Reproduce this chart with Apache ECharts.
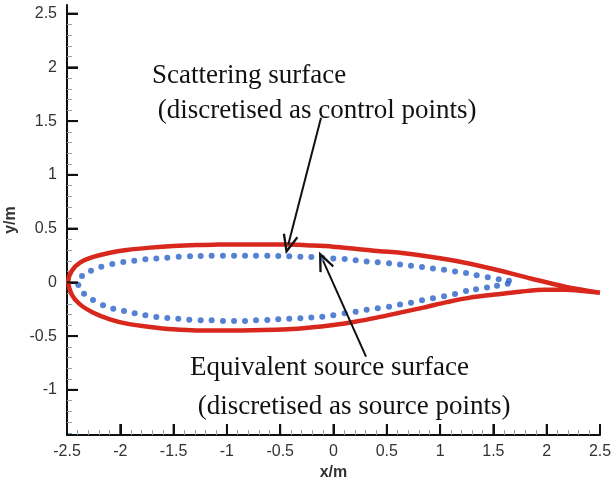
<!DOCTYPE html>
<html>
<head>
<meta charset="utf-8">
<script src="https://cdn.jsdelivr.net/npm/echarts@6/dist/echarts.min.js"></script>
<style>
  html, body { margin: 0; padding: 0; background: #fff; }
  #chart { width: 613px; height: 481px; }
</style>
</head>
<body>
<div id="chart"></div>
<script>
// scattering surface (red), trailing edge -> upper -> leading edge -> lower -> trailing edge
const scatterX = [2.500, 2.172, 1.859, 1.546, 1.234, 0.905, 0.624, 0.436, 0.202, -0.005, -0.220, -0.427, -0.643, -0.861, -1.083, -1.283, -1.503, -1.721, -1.940, -2.097, -2.253, -2.378, -2.456, -2.488,
  -2.456, -2.378, -2.253, -2.097, -1.940, -1.721, -1.503, -1.283, -0.861, -0.424, -0.220, -0.002, 0.202, 0.405, 0.624, 0.842, 1.065, 1.280, 1.546, 1.749, 1.984, 2.172, 2.360, 2.500];
const scatterY = [-0.096, -0.040, 0.034, 0.113, 0.183, 0.239, 0.276, 0.290, 0.313, 0.332, 0.343, 0.351, 0.353, 0.353, 0.351, 0.348, 0.339, 0.323, 0.301, 0.276, 0.236, 0.183, 0.106, 0.011,
  -0.112, -0.205, -0.282, -0.344, -0.384, -0.415, -0.437, -0.447, -0.447, -0.437, -0.421, -0.396, -0.366, -0.328, -0.282, -0.235, -0.184, -0.142, -0.110, -0.087, -0.068, -0.068, -0.082, -0.096];

// equivalent source points (blue)
const sourceUpperX = [-2.394, -2.359, -2.275, -2.178, -2.075, -1.972, -1.869, -1.765, -1.662, -1.559, -1.452, -1.346, -1.246, -1.143, -1.037, -0.933, -0.830, -0.727, -0.621, -0.518, -0.415,
  -0.311, -0.208, -0.105, -0.002, 0.105, 0.208, 0.311, 0.415, 0.521, 0.624, 0.727, 0.830, 0.933, 1.037, 1.140, 1.243, 1.343, 1.447, 1.550, 1.646];
const sourceUpperY = [-0.024, 0.060, 0.109, 0.146, 0.171, 0.190, 0.202, 0.214, 0.223, 0.230, 0.239, 0.242, 0.246, 0.248, 0.248, 0.248, 0.248, 0.248, 0.248, 0.246, 0.242,
  0.239, 0.236, 0.230, 0.223, 0.218, 0.205, 0.195, 0.186, 0.177, 0.165, 0.155, 0.143, 0.130, 0.118, 0.102, 0.087, 0.065, 0.047, 0.028, 0.016];
const sourceLowerX = [-2.340, -2.256, -2.162, -2.066, -1.965, -1.865, -1.765, -1.662, -1.559, -1.456, -1.353, -1.246, -1.143, -1.037, -0.933, -0.830, -0.727, -0.621, -0.518, -0.415,
  -0.311, -0.208, -0.105, -0.002, 0.105, 0.208, 0.311, 0.415, 0.521, 0.624, 0.727, 0.830, 0.933, 1.037, 1.140, 1.243, 1.337, 1.440, 1.534, 1.634];
const sourceLowerY = [-0.105, -0.164, -0.214, -0.245, -0.266, -0.288, -0.307, -0.322, -0.331, -0.338, -0.347, -0.353, -0.353, -0.359, -0.359, -0.359, -0.353, -0.350, -0.344, -0.338,
  -0.335, -0.328, -0.319, -0.305, -0.288, -0.273, -0.254, -0.242, -0.226, -0.207, -0.189, -0.167, -0.149, -0.130, -0.108, -0.080, -0.065, -0.049, -0.031, -0.012];

const xTicks = [-2.5, -2, -1.5, -1, -0.5, 0, 0.5, 1, 1.5, 2, 2.5];
const yTicks = [-1, -0.5, 0, 0.5, 1, 1.5, 2, 2.5];
const xRange = [-2.5, 2.5];
const yRange = [-1.42, 2.58];

// arrows: [from, to] in data units
const arrows = [
  [[-0.117, 1.532], [-0.424, 0.351]],
  [[0.305, -0.691], [-0.098, 0.202]]
];

// annotation text: [text, left px, middle px]
const notes = [
  ['Scattering surface', 152, 76],
  [' (discretised as control points)', 151, 111],
  ['Equivalent source surface', 190, 368],
  [' (discretised as source points)', 191, 407]
];

const zip = (xs, ys) => xs.map((x, i) => [x, ys[i]]);
const scatterData = zip(scatterX, scatterY);
const sourceData = zip(sourceUpperX, sourceUpperY).concat(zip(sourceLowerX, sourceLowerY));
// major tick marks: [0 = x axis / 1 = y axis, value]
const tickData = xTicks.map(v => [0, v]).concat(yTicks.map(v => [1, v]));

const arrowHead = 'path://M7,0 L14,16.5 L12.2,17.5 L7,5.2 L1.8,17.5 L0,16.5 Z';
const tickLen = 11;

const chart = echarts.init(document.getElementById('chart'));

const axisFont = {color: '#333', fontSize: 16, fontFamily: '"Liberation Sans", Arial, sans-serif'};

chart.setOption({
  animation: false,
  grid: {left: 67, right: 13, top: 5, bottom: 46, outerBoundsMode: 'none'},
  xAxis: {
    type: 'value',
    min: xRange[0],
    max: xRange[1],
    interval: 0.5,
    name: 'x/m',
    nameLocation: 'middle',
    nameGap: 29,
    nameTextStyle: {color: '#333', fontSize: 16, fontWeight: 'bold'},
    axisLine: {onZero: false, lineStyle: {color: '#111', width: 2}},
    axisTick: {show: true, inside: true, length: tickLen, lineStyle: {color: '#111', width: 2}},
    minorTick: {show: true, splitNumber: 5, length: 5, lineStyle: {color: '#87a3b8', width: 1}},
    axisLabel: Object.assign({margin: 9}, axisFont),
    splitLine: {show: false}
  },
  yAxis: {
    type: 'value',
    min: yRange[0],
    max: yRange[1],
    minInterval: 0.5,
    maxInterval: 0.5,
    name: 'y/m',
    nameLocation: 'middle',
    nameGap: 40,
    nameTextStyle: {color: '#333', fontSize: 16, fontWeight: 'bold'},
    axisLine: {onZero: false, lineStyle: {color: '#111', width: 2}},
    axisTick: {show: true, inside: true, length: tickLen, customValues: yTicks, lineStyle: {color: '#111', width: 2}},
    minorTick: {show: true, splitNumber: 5, length: 5, lineStyle: {color: '#87a3b8', width: 1}},
    axisLabel: Object.assign({margin: 10, showMinLabel: false, showMaxLabel: false}, axisFont),
    splitLine: {show: false}
  },
  series: [
    {
      name: 'Scattering surface',
      type: 'line',
      data: scatterData,
      smooth: 0.3,
      symbol: 'none',
      lineStyle: {color: '#d8281e', width: 4.5},
      z: 2
    },
    {
      name: 'Equivalent source surface',
      type: 'scatter',
      data: sourceData,
      symbolSize: 6,
      itemStyle: {color: '#2a62c8'},
      z: 3,
      markLine: {
        silent: true,
        animation: false,
        symbol: ['none', 'none'],
        label: {show: false},
        lineStyle: {color: '#111', width: 2, type: 'solid'},
        data: arrows.map(a => [
          {coord: a[0], symbol: 'none'},
          {coord: a[1], symbol: arrowHead, symbolSize: [16, 20]}
        ])
      }
    },
    {
      // major ticks drawn again through the axis scales so they always show
      name: 'ticks',
      type: 'custom',
      silent: true,
      clip: false,
      z: 4,
      data: tickData,
      encode: {x: -1, y: -1},
      renderItem: (params, api) => {
        const onX = api.value(0) === 0;
        const v = api.value(1);
        const p = onX ? api.coord([v, yRange[0]]) : api.coord([xRange[0], v]);
        const q = onX ? [p[0], p[1] - tickLen] : [p[0] + tickLen, p[1]];
        return {
          type: 'line',
          shape: {x1: p[0], y1: p[1], x2: q[0], y2: q[1]},
          style: {stroke: '#111', lineWidth: 2}
        };
      }
    }
  ],
  graphic: notes.map(n => ({
    type: 'text',
    x: n[1],
    y: n[2],
    silent: true,
    style: {
      text: n[0],
      fill: '#111',
      font: '27px "Liberation Serif", "Times New Roman", serif',
      align: 'left',
      verticalAlign: 'middle'
    }
  }))
});
</script>
</body>
</html>
